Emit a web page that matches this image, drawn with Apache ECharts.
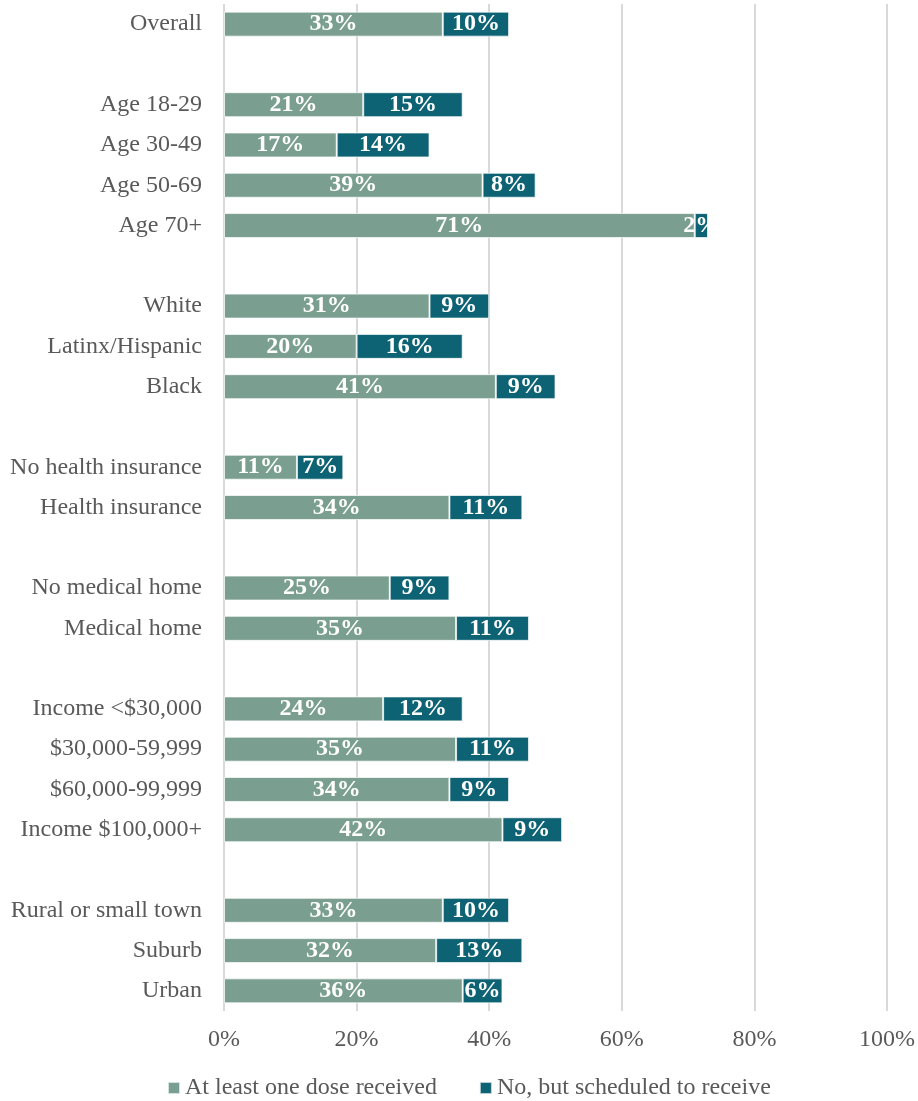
<!DOCTYPE html>
<html>
<head>
<meta charset="utf-8">
<script src="https://cdn.jsdelivr.net/npm/echarts@6/dist/echarts.min.js"></script>
<style>
  html, body { margin: 0; padding: 0; background: #fff; }
  #chart { width: 918px; height: 1101px; }
</style>
</head>
<body>
<div id="chart"></div>
<script>
// Row labels; blank rows separate the groups
const categories = [
  'Overall', ' ',
  'Age 18-29', 'Age 30-49', 'Age 50-69', 'Age 70+', '  ',
  'White', 'Latinx/Hispanic', 'Black', '   ',
  'No health insurance', 'Health insurance', '    ',
  'No medical home', 'Medical home', '     ',
  'Income <$30,000', '$30,000-59,999', '$60,000-99,999', 'Income $100,000+', '      ',
  'Rural or small town', 'Suburb', 'Urban'
];
const doseReceived = [
  33, null,
  21, 17, 39, 71, null,
  31, 20, 41, null,
  11, 34, null,
  25, 35, null,
  24, 35, 34, 42, null,
  33, 32, 36
];
const scheduled = [
  10, null,
  15, 14, 8, 2, null,
  9, 16, 9, null,
  7, 11, null,
  9, 11, null,
  12, 11, 9, 9, null,
  10, 13, 6
];
const seriesNames = ['At least one dose received', 'No, but scheduled to receive'];
const xTicks = { min: 0, max: 100, interval: 20 };

const FONT = '"Liberation Serif", "Times New Roman", serif';
const TEXT = '#595959';

const barLabel = {
  show: true,
  position: 'inside',
  color: '#fff',
  fontFamily: FONT,
  fontWeight: 'bold',
  fontSize: 24,
  formatter: p => (p.value == null ? '' : p.value + '%')
};

const chart = echarts.init(document.getElementById('chart'), null, { renderer: 'canvas' });
chart.setOption({
  animation: false,
  textStyle: { fontFamily: FONT },
  grid: { left: 224, right: 29, top: 4, bottom: 90, containLabel: false },
  legend: {
    top: 1071,
    left: 162,
    itemWidth: 12,
    itemHeight: 12,
    itemGap: 42,
    icon: 'rect',
    textStyle: { fontFamily: FONT, fontSize: 24, color: TEXT },
    data: seriesNames
  },
  xAxis: {
    type: 'value',
    min: xTicks.min,
    max: xTicks.max,
    interval: xTicks.interval,
    axisLine: { show: false },
    axisTick: { show: false },
    axisLabel: { formatter: '{value}%', fontFamily: FONT, fontSize: 24, color: TEXT, margin: 17 },
    splitLine: { show: true, lineStyle: { color: '#d9d9d9', width: 2 } }
  },
  yAxis: {
    type: 'category',
    inverse: true,
    data: categories,
    axisLine: { show: false },
    axisTick: { show: false },
    axisLabel: { fontFamily: FONT, fontSize: 24, color: TEXT, margin: 22 }
  },
  series: [
    {
      name: seriesNames[0],
      type: 'bar',
      stack: 'total',
      barCategoryGap: '38%',
      data: doseReceived,
      itemStyle: { color: '#7a9e8f', borderColor: 'rgba(255,255,255,0.7)', borderWidth: 1 },
      label: barLabel
    },
    {
      name: seriesNames[1],
      type: 'bar',
      stack: 'total',
      barCategoryGap: '38%',
      data: scheduled,
      itemStyle: { color: '#0d6273', borderColor: 'rgba(255,255,255,0.7)', borderWidth: 1 },
      label: barLabel
    }
  ]
});
</script>
</body>
</html>
